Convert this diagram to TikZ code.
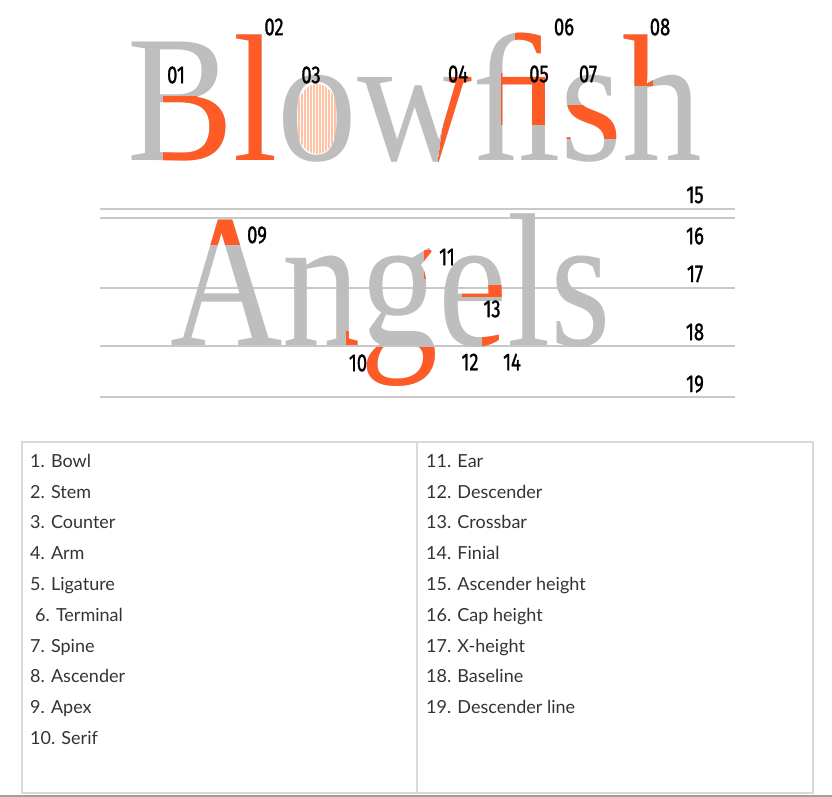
\documentclass[tikz,border=0pt]{standalone}
\usepackage{fontspec}
\usepackage{graphicx}
\setmainfont{Liberation Serif}
\newfontfamily\numfont[FakeStretch=0.75, FakeBold=1.2]{Fira Sans}
\newfontfamily\listfont{Lato}
\usetikzlibrary{
  positioning,
  patterns
}
\definecolor{tyGrey}{HTML}{BEBEBE}
\definecolor{tyOrange}{HTML}{FF5B26}
\definecolor{tyPeach}{HTML}{FFC2A4}
\definecolor{tyRule}{HTML}{C8C8C8}
\definecolor{tyFrame}{HTML}{DADADA}
\definecolor{tyBottom}{HTML}{9E9E9E}
\definecolor{tyText}{HTML}{333333}
\newcommand{\fishtext}{\scalebox{0.88}[1]{Blow\symbol{"FB01}sh}}
\newcommand{\angeltext}{\scalebox{0.82}[1]{Angels}}
\tikzset{
  bigword/.style={inner sep=0, outer sep=0, text=tyGrey, anchor=base west},
  fishword/.style={bigword, font=\fontsize{181}{181}\selectfont, at={(127,-160)}},
  angelword/.style={bigword, font=\fontsize{190}{190}\selectfont, at={(170,-345)}},
  hot/.style={text=tyOrange},
  partno/.style={font=\numfont\fontsize{24.5}{24.5}\selectfont, text=black, inner sep=0},
  guide/.style={draw=tyRule, line width=1.5pt},
  frame/.style={draw=tyFrame, line width=1.2pt},
  item/.style={
    font=\listfont\fontsize{18}{18}\selectfont, text=tyText,
    inner sep=0, text height=13pt, text depth=4pt, anchor=north west
  },
  nextitem/.style={item, below=13.4pt of #1.south west, anchor=north west}
}

\begin{document}
\begin{tikzpicture}[x=1pt, y=1pt]
  \useasboundingbox (0,0) rectangle (832,-797);

  % counter of the o
  \fill[tyPeach] (317,-119) ellipse [x radius=22, y radius=35];
  \fill[pattern=vertical lines, pattern color=white] (317,-119) ellipse [x radius=22, y radius=35];

  % guide lines
  \draw[guide] (100,-209) -- (735,-209);
  \draw[guide] (100,-218) -- (735,-218);
  \draw[guide] (100,-288) -- (735,-288);
  \draw[guide] (100,-346) -- (735,-346);
  \draw[guide] (100,-397) -- (735,-397);

  % the two words
  \node[fishword] (fish) {\fishtext};
  \node[angelword] (angels) {\angeltext};

  % orange parts
  \begin{scope}
    \clip (163,-97) rectangle (229,-170);
    \node[fishword, hot] (bowl) {\fishtext};
  \end{scope}
  \begin{scope}
    \clip (230,-15) rectangle (279,-170);
    \node[fishword, hot] (stem) {\fishtext};
  \end{scope}
  \begin{scope}
    \clip (437,-166) -- (447,-166) -- (473,-100) -- (473,-70) -- (450,-70) -- cycle;
    \node[fishword, hot] (arm) {\fishtext};
  \end{scope}
  \begin{scope}
    \clip (501,-74) rectangle (552,-125);
    \node[fishword, hot] (ligature) {\fishtext};
  \end{scope}
  \begin{scope}
    \clip (515,-15) rectangle (565,-60);
    \node[fishword, hot] (terminal) {\fishtext};
  \end{scope}
  \begin{scope}
    \clip (565,-106) rectangle (620,-138);
    \node[fishword, hot] (spine) {\fishtext};
  \end{scope}
  \begin{scope}
    \clip (619,-15) rectangle (652,-86);
    \node[fishword, hot] (ascender) {\fishtext};
  \end{scope}
  \begin{scope}
    \clip (200,-200) rectangle (260,-244);
    \node[angelword, hot] (apex) {\angeltext};
  \end{scope}
  \begin{scope}
    \clip (346,-331) rectangle (362,-350);
    \node[angelword, hot] (serif) {\angeltext};
  \end{scope}
  \begin{scope}
    \clip (424,-250) rectangle (441,-278);
    \node[angelword, hot] (ear) {\angeltext};
  \end{scope}
  \begin{scope}
    \clip (355,-347) rectangle (445,-420);
    \node[angelword, hot] (descender) {\angeltext};
  \end{scope}
  \begin{scope}
    \clip (462,-285) rectangle (508,-296);
    \node[angelword, hot] (crossbar) {\angeltext};
  \end{scope}
  \begin{scope}
    \clip (482,-318) rectangle (508,-350);
    \node[angelword, hot] (finial) {\angeltext};
  \end{scope}

  % part numbers
  \node[partno] (n01) at (176,-75) {01};
  \node[partno] (n02) at (274,-27) {02};
  \node[partno] (n03) at (311,-75) {03};
  \node[partno] (n04) at (458,-74) {04};
  \node[partno] (n05) at (539,-74) {05};
  \node[partno] (n06) at (564,-27) {06};
  \node[partno] (n07) at (588,-74) {07};
  \node[partno] (n08) at (660,-27) {08};
  \node[partno] (n09) at (257,-235) {09};
  \node[partno] (n10) at (358,-363) {10};
  \node[partno] (n11) at (447,-257) {11};
  \node[partno] (n12) at (470,-362) {12};
  \node[partno] (n13) at (492,-309) {13};
  \node[partno] (n14) at (512,-362) {14};
  \node[partno] (n15) at (695,-195) {15};
  \node[partno] (n16) at (695,-236) {16};
  \node[partno] (n17) at (695,-274) {17};
  \node[partno] (n18) at (695,-332) {18};
  \node[partno] (n19) at (695,-384) {19};

  % legend table
  \draw[frame] (22,-442) rectangle (813,-793);
  \draw[frame] (417,-442) -- (417,-793);
  \draw[draw=tyBottom, line width=1.5pt] (0,-796) -- (832,-796);

  \node[item] (i1) at (30,-454) {1. Bowl};
  \node[nextitem=i1] (i2) {2. Stem};
  \node[nextitem=i2] (i3) {3. Counter};
  \node[nextitem=i3] (i4) {4. Arm};
  \node[nextitem=i4] (i5) {5. Ligature};
  \node[nextitem=i5] (i6) {\hspace{5pt}6. Terminal};
  \node[nextitem=i6] (i7) {7. Spine};
  \node[nextitem=i7] (i8) {8. Ascender};
  \node[nextitem=i8] (i9) {9. Apex};
  \node[nextitem=i9] (i10) {10. Serif};

  \node[item] (i11) at (426,-454) {11. Ear};
  \node[nextitem=i11] (i12) {12. Descender};
  \node[nextitem=i12] (i13) {13. Crossbar};
  \node[nextitem=i13] (i14) {14. Finial};
  \node[nextitem=i14] (i15) {15. Ascender height};
  \node[nextitem=i15] (i16) {16. Cap height};
  \node[nextitem=i16] (i17) {17. X-height};
  \node[nextitem=i17] (i18) {18. Baseline};
  \node[nextitem=i18] (i19) {19. Descender line};
\end{tikzpicture}
\end{document}
